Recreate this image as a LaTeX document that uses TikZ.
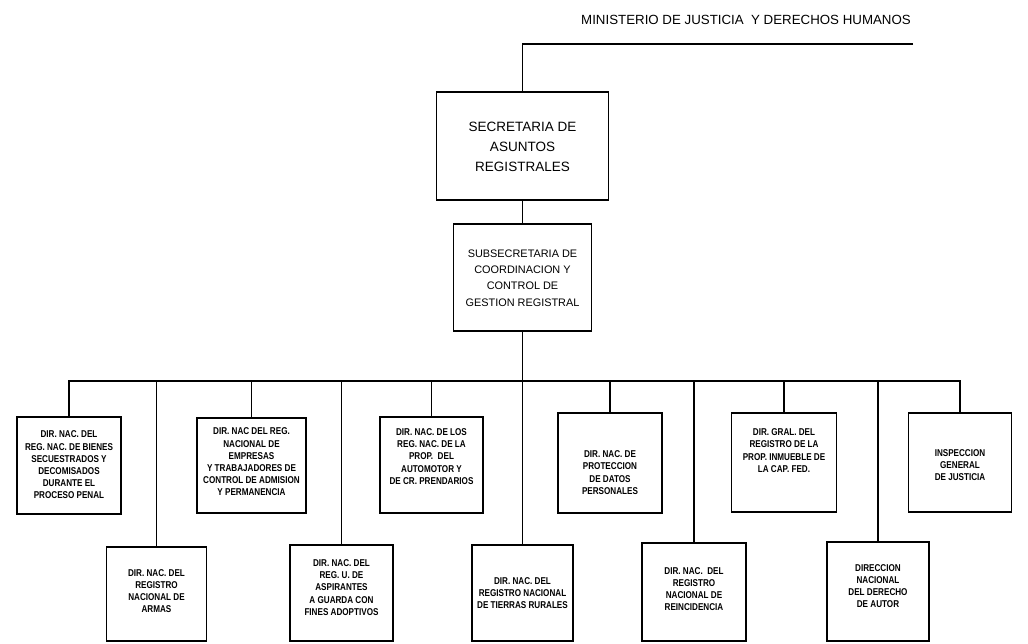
\documentclass[tikz,border=0pt]{standalone}
\usepackage{fontspec}
\setmainfont{Liberation Sans}
\newfontfamily\narrowfont[FakeStretch=0.82]{Liberation Sans}
\begin{document}
\begin{tikzpicture}[x=1pt,y=-1pt,
  box/.style={draw, line width=1.3pt, inner sep=0pt},
  conn/.style={line width=1.2pt},
  small/.style={font=\narrowfont\bfseries\fontsize{9.9}{12.2}\selectfont, align=center, inner sep=0pt},
  big/.style={font=\fontsize{13.5}{20}\selectfont, align=center, inner sep=0pt},
  mid/.style={font=\fontsize{10.9}{16.3}\selectfont, align=center, inner sep=0pt}]
\fill[white] (0,0) rectangle (1028,644);
\useasboundingbox (0,0) rectangle (1028,644);

% title
\node[font=\fontsize{13.3}{16}\selectfont, inner sep=0pt] (title) at (746,20) {MINISTERIO DE JUSTICIA\ \ Y DERECHOS HUMANOS};
\coordinate (mend) at (913,44);

% top boxes
\node[box, minimum width=172pt, minimum height=108pt] (sec) at (522.5,146) {};
\node[big] (sect) at (522.5,147) {SECRETARIA DE\\ASUNTOS\\REGISTRALES};
\node[box, minimum width=138pt, minimum height=107pt] (sub) at (522.5,277.5) {};
\node[mid] (subt) at (522.5,278) {SUBSECRETARIA DE\\COORDINACION Y\\CONTROL DE\\GESTION REGISTRAL};

% upper row
\node[box, minimum width=104pt, minimum height=97pt] (b1) at (69,465.5) {};
\node[box, minimum width=109pt, minimum height=95pt] (b3) at (251.5,465.5) {};
\node[box, minimum width=103pt, minimum height=96pt] (b5) at (431.5,465) {};
\node[box, minimum width=104pt, minimum height=100pt] (b7) at (610,463) {};
\node[box, minimum width=105pt, minimum height=99pt] (b9) at (784,462.5) {};
\node[box, minimum width=103pt, minimum height=99pt] (b11) at (960,462.5) {};

% lower row
\node[box, minimum width=100pt, minimum height=94pt] (b2) at (156.5,594) {};
\node[box, minimum width=103pt, minimum height=96pt] (b4) at (341.5,593) {};
\node[box, minimum width=101pt, minimum height=96pt] (b6) at (522.5,593) {};
\node[box, minimum width=104pt, minimum height=98pt] (b8) at (694,592) {};
\node[box, minimum width=102pt, minimum height=99pt] (b10) at (878,591.5) {};

% texts
\node[small] (t1) at (69,465) {DIR. NAC. DEL\\REG. NAC. DE BIENES\\SECUESTRADOS Y\\DECOMISADOS\\DURANTE EL\\PROCESO PENAL};
\node[small] (t3) at (251.5,462) {DIR. NAC DEL REG.\\NACIONAL DE\\EMPRESAS\\Y TRABAJADORES DE\\CONTROL DE ADMISION\\Y PERMANENCIA};
\node[small] (t5) at (431.5,456.5) {DIR. NAC. DE LOS\\REG. NAC. DE LA\\PROP.\ \ DEL\\AUTOMOTOR Y\\DE CR. PRENDARIOS};
\node[small] (t7) at (610,472.5) {DIR. NAC. DE\\PROTECCION\\DE DATOS\\PERSONALES};
\node[small] (t9) at (784,450.5) {DIR. GRAL. DEL\\REGISTRO DE LA\\PROP. INMUEBLE DE\\LA CAP. FED.};
\node[small] (t11) at (960,465) {INSPECCION\\GENERAL\\DE JUSTICIA};
\node[small] (t2) at (156.5,591) {DIR. NAC. DEL\\REGISTRO\\NACIONAL DE\\ARMAS};
\node[small] (t4) at (341.5,587.5) {DIR. NAC. DEL\\REG. U. DE\\ASPIRANTES\\A GUARDA CON\\FINES ADOPTIVOS};
\node[small] (t6) at (522.5,593) {DIR. NAC. DEL\\REGISTRO NACIONAL\\DE TIERRAS RURALES};
\node[small] (t8) at (694,589) {DIR. NAC.\ \ DEL\\REGISTRO\\NACIONAL DE\\REINCIDENCIA};
\node[small] (t10) at (878,586) {DIRECCION\\NACIONAL\\DEL DERECHO\\DE AUTOR};

% connectors
\coordinate (bus) at (522.5,381);
\draw[conn] (mend) -| (sec.north);
\draw[conn] (sec.south) -- (sub.north);
\draw[conn] (sub.south) -- (b6.north);
\draw[conn] (b1.north) |- (bus) -| (b11.north);
\foreach \b in {b2,b3,b4,b5,b7,b8,b9,b10}
  \draw[conn] (\b.north) -- (\b.north |- bus);
\end{tikzpicture}
\end{document}
